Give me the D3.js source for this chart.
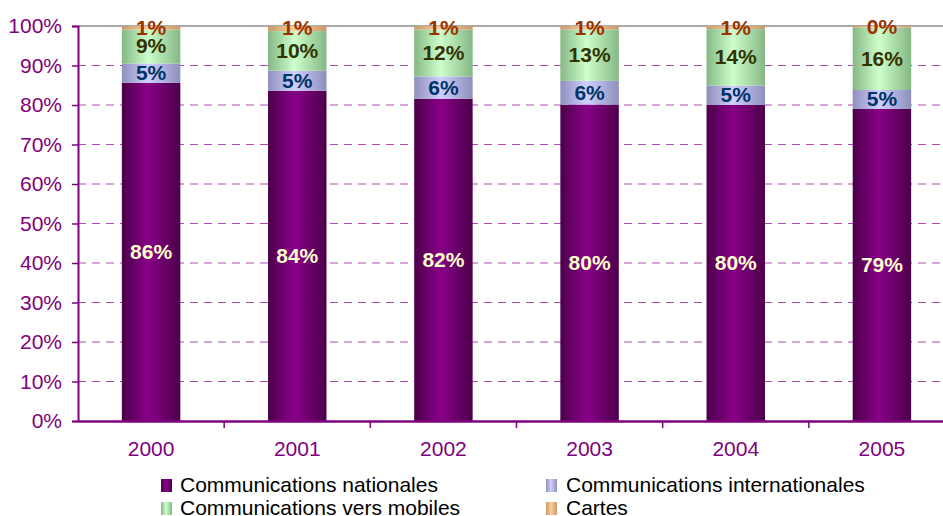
<!DOCTYPE html>
<html lang="fr">
<head>
<meta charset="utf-8">
<title>Répartition des communications</title>
<script src="https://d3js.org/d3.v7.min.js"></script>
<style>
  body { margin: 0; background: #fff; }
  text { font-family: "Liberation Sans", Arial, sans-serif; }
</style>
</head>
<body>
<script>
// data (shares in %, per year)
const years = ["2000", "2001", "2002", "2003", "2004", "2005"];
const nationales = [85.6, 83.6, 81.6, 80.1, 80.0, 79.0];
const internationales = [4.9, 5.1, 5.6, 6.0, 4.9, 4.8];
const mobiles = [8.6, 10.0, 11.9, 13.0, 14.3, 15.8];
const cartes = [0.9, 1.3, 0.9, 0.9, 0.8, 0.4];
const yTicks = [0, 10, 20, 30, 40, 50, 60, 70, 80, 90, 100];

const series = [
  {key: "nat", name: "Communications nationales", values: nationales,
   dark: "#4c004a", light: "#880088", label: "#ffffcc"},
  {key: "int", name: "Communications internationales", values: internationales,
   dark: "#8f8fbd", light: "#d0d0ff", label: "#003366"},
  {key: "mob", name: "Communications vers mobiles", values: mobiles,
   dark: "#86b886", light: "#ccffcc", label: "#333300"},
  {key: "car", name: "Cartes", values: cartes,
   dark: "#c89a6a", light: "#ffcc99", label: "#993300"}
];

const W = 943, H = 516;
const mLeft = 78, mRight = 955, mTop = 26, mBottom = 421;
const purple = "#800080";

const svg = d3.select("body").append("svg")
  .attr("width", W).attr("height", H);

// gradients
const defs = svg.append("defs");
series.forEach(s => {
  const g = defs.append("linearGradient").attr("id", "g-" + s.key)
    .attr("x1", "0%").attr("x2", "100%").attr("y1", "0%").attr("y2", "0%");
  g.append("stop").attr("offset", "0%").attr("stop-color", s.dark);
  g.append("stop").attr("offset", "45%").attr("stop-color", s.light);
  g.append("stop").attr("offset", "100%").attr("stop-color", s.dark);
});

const x = d3.scaleBand().domain(years).range([mLeft, mRight])
  .paddingInner(0.6).paddingOuter(0.3);
const y = d3.scaleLinear().domain([0, 100]).range([mBottom, mTop]);

// gridlines
svg.append("g").selectAll("line")
  .data(yTicks.filter(t => t > 0 && t < 100))
  .join("line")
  .attr("x1", mLeft).attr("x2", mRight)
  .attr("y1", d => y(d)).attr("y2", d => y(d))
  .attr("stroke", "#b04ab0").attr("stroke-width", 1.2)
  .attr("stroke-dasharray", "8,6");

// top border
svg.append("line").attr("x1", mLeft).attr("x2", mRight)
  .attr("y1", y(100)).attr("y2", y(100))
  .attr("stroke", "#8c8c8c").attr("stroke-width", 1.5);

// stacked bars
const table = years.map((yr, i) => {
  const row = {year: yr};
  series.forEach(s => row[s.key] = s.values[i]);
  return row;
});
const stack = d3.stack().keys(series.map(s => s.key))(table);

stack.forEach((layer, li) => {
  const s = series[li];
  const g = svg.append("g");
  g.selectAll("rect").data(layer).join("rect")
    .attr("x", d => x(d.data.year))
    .attr("width", x.bandwidth())
    .attr("y", d => y(d[1]))
    .attr("height", d => y(d[0]) - y(d[1]))
    .attr("fill", "url(#g-" + s.key + ")");
});

// value labels
stack.forEach((layer, li) => {
  const s = series[li];
  svg.append("g").selectAll("text").data(layer).join("text")
    .attr("x", d => x(d.data.year) + x.bandwidth() / 2)
    .attr("y", d => y((d[0] + d[1]) / 2))
    .attr("dy", "0.33em")
    .attr("text-anchor", "middle")
    .attr("font-size", 21).attr("font-weight", "bold")
    .attr("fill", s.label)
    .text(d => Math.round(d[1] - d[0]) + "%");
});

// y axis
const yAxis = svg.append("g")
  .attr("transform", `translate(${mLeft},0)`)
  .call(d3.axisLeft(y).tickValues(yTicks).tickSize(6).tickPadding(10)
    .tickFormat(d => d + "%"));
yAxis.select(".domain").attr("stroke", purple).attr("stroke-width", 2);
yAxis.selectAll(".tick line").attr("stroke", purple).attr("stroke-width", 1.5);
yAxis.selectAll("text").attr("fill", purple).attr("font-size", 21)
  .attr("font-family", "Liberation Sans, Arial, sans-serif");

// x axis
const xAxis = svg.append("g")
  .attr("transform", `translate(0,${mBottom})`)
  .call(d3.axisBottom(x).tickSize(0).tickPadding(20));
xAxis.select(".domain").attr("stroke", purple).attr("stroke-width", 2.5);
xAxis.selectAll("text").attr("fill", purple).attr("font-size", 21)
  .attr("font-family", "Liberation Sans, Arial, sans-serif");
// category separators
svg.append("g").selectAll("line")
  .data(years.slice(1))
  .join("line")
  .attr("x1", d => x(d) - x.step() * x.paddingInner() / 2)
  .attr("x2", d => x(d) - x.step() * x.paddingInner() / 2)
  .attr("y1", mBottom).attr("y2", mBottom + 7)
  .attr("stroke", purple).attr("stroke-width", 1.5);

// legend
const legPos = [[161, 492], [546, 492], [161, 515], [546, 515]];
const leg = svg.append("g").selectAll("g").data(series).join("g")
  .attr("transform", (d, i) => `translate(${legPos[i][0]},${legPos[i][1]})`);
leg.append("rect").attr("x", 0).attr("y", -13).attr("width", 11).attr("height", 13)
  .attr("fill", d => "url(#g-" + d.key + ")");
leg.append("text").attr("x", d => d.key === "nat" || d.key === "mob" ? 19 : 20)
  .attr("font-size", 21).attr("fill", "#000")
  .text(d => d.name);
</script>
</body>
</html>
